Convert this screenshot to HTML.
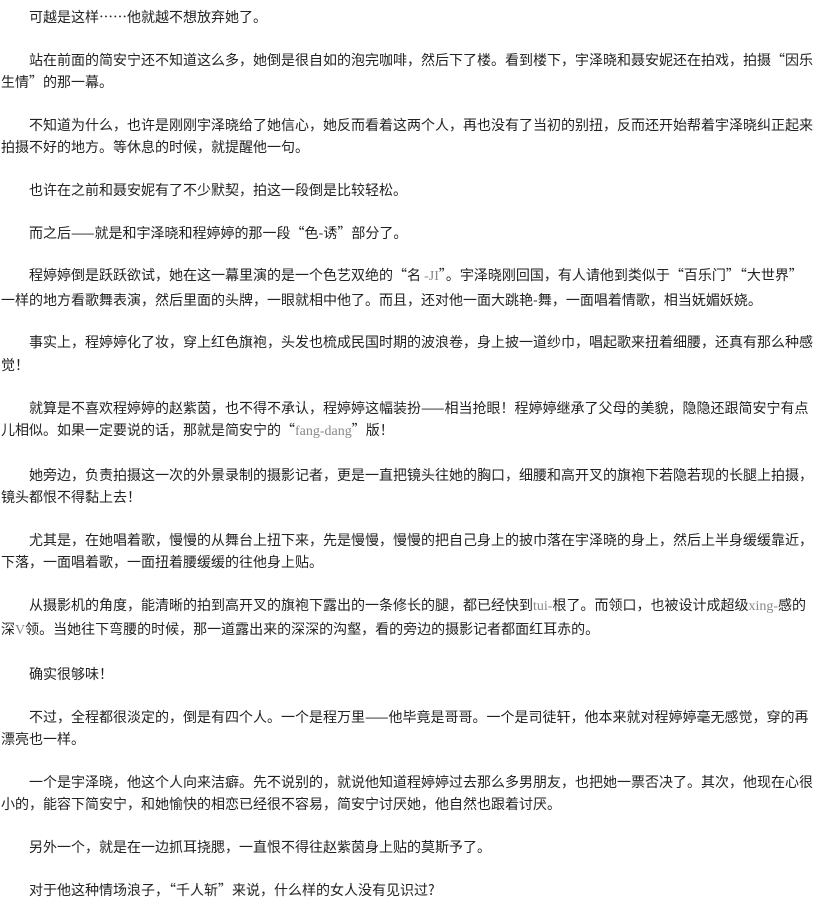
<!DOCTYPE html>
<html><head><meta charset="utf-8"><style>
html,body{margin:0;padding:0;background:#fff;}
body{width:835px;height:911px;overflow:hidden;}
.w{width:813px;padding:6px 0 0 1px;font-family:"Noto Sans CJK SC","WenQuanYi Zen Hei",sans-serif;font-size:14px;color:#222;}
p{margin:0 0 20.3px 0;line-height:22.4px;text-indent:28px;}
.e{font-family:"Liberation Serif",serif;color:#888;}
</style></head><body><div class="w">
<p>可越是这样……他就越不想放弃她了。</p>
<p>站在前面的简安宁还不知道这么多，她倒是很自如的泡完咖啡，然后下了楼。看到楼下，宇泽晓和聂安妮还在拍戏，拍摄“因乐生情”的那一幕。</p>
<p>不知道为什么，也许是刚刚宇泽晓给了她信心，她反而看着这两个人，再也没有了当初的别扭，反而还开始帮着宇泽晓纠正起来拍摄不好的地方。等休息的时候，就提醒他一句。</p>
<p>也许在之前和聂安妮有了不少默契，拍这一段倒是比较轻松。</p>
<p>而之后——就是和宇泽晓和程婷婷的那一段“色-诱”部分了。</p>
<p>程婷婷倒是跃跃欲试，她在这一幕里演的是一个色艺双绝的“名 <span class="e">-JI</span>”。宇泽晓刚回国，有人请他到类似于“百乐门”“大世界”<br>一样的地方看歌舞表演，然后里面的头牌，一眼就相中他了。而且，还对他一面大跳艳-舞，一面唱着情歌，相当妩媚妖娆。</p>
<p>事实上，程婷婷化了妆，穿上红色旗袍，头发也梳成民国时期的波浪卷，身上披一道纱巾，唱起歌来扭着细腰，还真有那么种感觉！</p>
<p>就算是不喜欢程婷婷的赵紫茵，也不得不承认，程婷婷这幅装扮——相当抢眼！程婷婷继承了父母的美貌，隐隐还跟简安宁有点儿相似。如果一定要说的话，那就是简安宁的“<span class="e">fang-dang</span>”版！</p>
<p>她旁边，负责拍摄这一次的外景录制的摄影记者，更是一直把镜头往她的胸口，细腰和高开叉的旗袍下若隐若现的长腿上拍摄，镜头都恨不得黏上去！</p>
<p>尤其是，在她唱着歌，慢慢的从舞台上扭下来，先是慢慢，慢慢的把自己身上的披巾落在宇泽晓的身上，然后上半身缓缓靠近，下落，一面唱着歌，一面扭着腰缓缓的往他身上贴。</p>
<p>从摄影机的角度，能清晰的拍到高开叉的旗袍下露出的一条修长的腿，都已经快到<span class="e">tui-</span>根了。而领口，也被设计成超级<span class="e">xing-</span>感的深<span class="e">V</span>领。当她往下弯腰的时候，那一道露出来的深深的沟壑，看的旁边的摄影记者都面红耳赤的。</p>
<p>确实很够味！</p>
<p>不过，全程都很淡定的，倒是有四个人。一个是程万里——他毕竟是哥哥。一个是司徒轩，他本来就对程婷婷毫无感觉，穿的再漂亮也一样。</p>
<p>一个是宇泽晓，他这个人向来洁癖。先不说别的，就说他知道程婷婷过去那么多男朋友，也把她一票否决了。其次，他现在心很小的，能容下简安宁，和她愉快的相恋已经很不容易，简安宁讨厌她，他自然也跟着讨厌。</p>
<p>另外一个，就是在一边抓耳挠腮，一直恨不得往赵紫茵身上贴的莫斯予了。</p>
<p>对于他这种情场浪子，“千人斩”来说，什么样的女人没有见识过?</p>
</div></body></html>
